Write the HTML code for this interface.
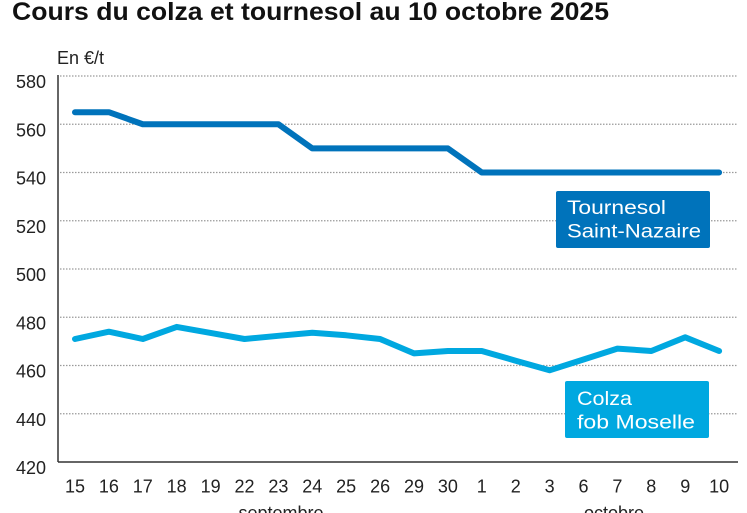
<!DOCTYPE html>
<html>
<head>
<meta charset="utf-8">
<style>
html,body{margin:0;padding:0;background:#fff;}
svg{display:block;}
text{font-family:"Liberation Sans",Arial,sans-serif;}
</style>
</head>
<body>
<svg width="747" height="513" viewBox="0 0 747 513" xmlns="http://www.w3.org/2000/svg">
<rect width="747" height="513" fill="#fff"/>
<text x="12" y="20" font-size="25" font-weight="bold" fill="#111" textLength="597" lengthAdjust="spacingAndGlyphs">Cours du colza et tournesol au 10 octobre 2025</text>
<text x="57" y="64" font-size="18" fill="#222">En €/t</text>

<g stroke="#9a9a9a" stroke-width="1.2" stroke-dasharray="1.5 1.5">
<line x1="60" y1="76" x2="737" y2="76"/>
<line x1="60" y1="124.25" x2="737" y2="124.25"/>
<line x1="60" y1="172.5" x2="737" y2="172.5"/>
<line x1="60" y1="220.75" x2="737" y2="220.75"/>
<line x1="60" y1="269" x2="737" y2="269"/>
<line x1="60" y1="317.25" x2="737" y2="317.25"/>
<line x1="60" y1="365.5" x2="737" y2="365.5"/>
<line x1="60" y1="413.75" x2="737" y2="413.75"/>
</g>

<g stroke="#333" stroke-width="1.5">
<line x1="58" y1="75" x2="58" y2="462"/>
<line x1="58" y1="462" x2="738" y2="462"/>
</g>

<g font-size="18" fill="#222" text-anchor="end">
<text x="46" y="88">580</text>
<text x="46" y="136.25">560</text>
<text x="46" y="184.5">540</text>
<text x="46" y="232.75">520</text>
<text x="46" y="281">500</text>
<text x="46" y="329.25">480</text>
<text x="46" y="377.5">460</text>
<text x="46" y="425.75">440</text>
<text x="46" y="474">420</text>
</g>

<g font-size="18" fill="#222" text-anchor="middle">
<text x="75" y="492.5">15</text>
<text x="108.9" y="492.5">16</text>
<text x="142.8" y="492.5">17</text>
<text x="176.7" y="492.5">18</text>
<text x="210.6" y="492.5">19</text>
<text x="244.5" y="492.5">22</text>
<text x="278.4" y="492.5">23</text>
<text x="312.3" y="492.5">24</text>
<text x="346.2" y="492.5">25</text>
<text x="380.1" y="492.5">26</text>
<text x="414" y="492.5">29</text>
<text x="447.9" y="492.5">30</text>
<text x="481.8" y="492.5">1</text>
<text x="515.7" y="492.5">2</text>
<text x="549.6" y="492.5">3</text>
<text x="583.5" y="492.5">6</text>
<text x="617.4" y="492.5">7</text>
<text x="651.3" y="492.5">8</text>
<text x="685.2" y="492.5">9</text>
<text x="719.1" y="492.5">10</text>
<text x="281" y="519">septembre</text>
<text x="614" y="519">octobre</text>
</g>

<polyline fill="none" stroke="#0073bb" stroke-width="6" stroke-linecap="round" stroke-linejoin="round"
points="75,112.2 108.9,112.2 142.8,124.25 278.4,124.25 312.3,148.4 447.9,148.4 481.8,172.5 719.1,172.5"/>

<polyline fill="none" stroke="#00a8e0" stroke-width="6" stroke-linecap="round" stroke-linejoin="round"
points="75,339 108.9,331.7 142.8,339 176.7,326.9 210.6,332.9 244.5,339 278.4,335.8 312.3,332.7 346.2,335.3 380.1,339 414,353.4 447.9,351 481.8,351 515.7,360.7 549.6,370.3 583.5,359.5 617.4,348.6 651.3,351 685.2,337.3 719.1,351"/>

<rect x="556" y="191" width="154" height="57" rx="2" fill="#0073bb"/>
<text x="567" y="214" font-size="19.5" fill="#fff" textLength="99" lengthAdjust="spacingAndGlyphs">Tournesol</text>
<text x="567" y="237.5" font-size="19.5" fill="#fff" textLength="134" lengthAdjust="spacingAndGlyphs">Saint-Nazaire</text>

<rect x="565" y="381" width="144" height="57" rx="2" fill="#00a8e0"/>
<text x="577" y="405" font-size="19.5" fill="#fff" textLength="55" lengthAdjust="spacingAndGlyphs">Colza</text>
<text x="577" y="428.5" font-size="19.5" fill="#fff" textLength="118" lengthAdjust="spacingAndGlyphs">fob Moselle</text>
</svg>
</body>
</html>
